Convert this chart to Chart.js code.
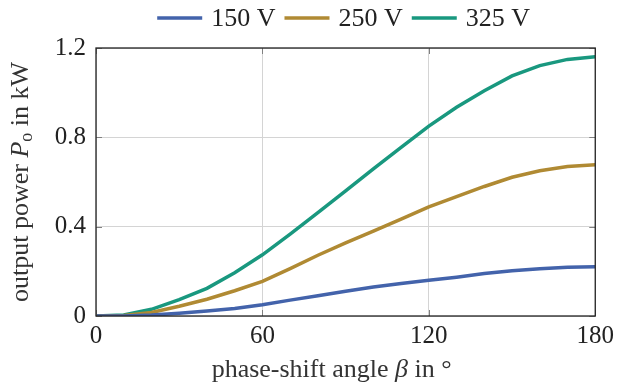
<!DOCTYPE html>
<html>
<head>
<meta charset="utf-8">
<script src="https://cdn.jsdelivr.net/npm/chart.js@4/dist/chart.umd.min.js"></script>
<style>
html, body { margin: 0; padding: 0; background: #fff; }
#wrap { width: 619px; height: 390px; position: relative; }
</style>
</head>
<body>
<div id="wrap"><canvas id="powerChart"></canvas></div>
<script>
// phase-shift angle in degrees
var angles = [0, 10, 20, 30, 40, 50, 60, 70, 80, 90, 100, 110, 120, 130, 140, 150, 160, 170, 180];

// output power in kW for each dc-link voltage
var p150 = [0, 0, 0.004, 0.012, 0.022, 0.034, 0.050, 0.071, 0.091, 0.111, 0.130, 0.146, 0.160, 0.174, 0.190, 0.203, 0.212, 0.218, 0.221];
var p250 = [0, 0.002, 0.016, 0.044, 0.075, 0.113, 0.155, 0.212, 0.272, 0.327, 0.380, 0.434, 0.489, 0.535, 0.580, 0.621, 0.650, 0.669, 0.677];
var p325 = [0, 0.005, 0.030, 0.073, 0.124, 0.194, 0.274, 0.367, 0.463, 0.560, 0.659, 0.755, 0.850, 0.935, 1.009, 1.075, 1.121, 1.149, 1.161];

var seriesNames = ['150 V', '250 V', '325 V'];
var seriesColors = ['#4363ab', '#b08a33', '#19987f'];

var xTicks = [0, 60, 120, 180];
var yTicks = [0, 0.4, 0.8, 1.2];
var yTickLabels = ['0', '0.4', '0.8', '1.2'];

var FONT = "'Liberation Serif', 'Times New Roman', serif";

function toPoints(ys) {
    var pts = [];
    for (var i = 0; i < angles.length; i++) {
        pts.push({x: angles[i], y: ys[i]});
    }
    return pts;
}

function makeSet(i, ys) {
    return {
        label: seriesNames[i],
        data: toPoints(ys),
        borderColor: seriesColors[i],
        backgroundColor: seriesColors[i],
        borderWidth: 3.5,
        pointRadius: 0,
        tension: 0,
        fill: false
    };
}

// writes a run of differently styled pieces of text, centred on cx
function drawRuns(ctx, runs, cx, y) {
    var total = 0;
    for (var r of runs) {
        ctx.font = r.font;
        total += ctx.measureText(r.text).width;
    }
    var x = cx - total / 2;
    ctx.textAlign = 'left';
    ctx.textBaseline = 'alphabetic';
    for (var r of runs) {
        ctx.font = r.font;
        ctx.fillText(r.text, x, y + (r.dy || 0));
        x += ctx.measureText(r.text).width;
    }
}

// legend row above the plot: line sample + label for each dataset
function drawLegend(chart) {
    var ctx = chart.ctx;
    var a = chart.chartArea;
    var sets = chart.data.datasets;
    var lineLen = 45, gap = 9;
    ctx.font = '26px ' + FONT;
    var total = 0;
    for (var ds of sets) {
        total += lineLen + gap + ctx.measureText(ds.label).width;
    }
    total += gap * (sets.length - 1);
    var x = (a.left + a.right) / 2 - 2 - total / 2;
    ctx.textAlign = 'left';
    ctx.textBaseline = 'alphabetic';
    for (var ds of sets) {
        ctx.strokeStyle = ds.borderColor;
        ctx.lineWidth = 3.5;
        ctx.beginPath();
        ctx.moveTo(x, 18);
        ctx.lineTo(x + lineLen, 18);
        ctx.stroke();
        x += lineLen + gap;
        ctx.fillStyle = '#222';
        ctx.fillText(ds.label, x, 26);
        x += ctx.measureText(ds.label).width + gap;
    }
}

var frameAndTitles = {
    id: 'frameAndTitles',
    afterDatasetsDraw: function (chart) {
        var ctx = chart.ctx;
        var a = chart.chartArea;
        var xs = chart.scales.x, ys = chart.scales.y;
        ctx.save();

        // small inward ticks on all four sides
        ctx.strokeStyle = '#808080';
        ctx.lineWidth = 1;
        ctx.beginPath();
        for (var v of xTicks) {
            var px = Math.round(xs.getPixelForValue(v)) + 0.5;
            ctx.moveTo(px, a.bottom); ctx.lineTo(px, a.bottom - 6);
            ctx.moveTo(px, a.top); ctx.lineTo(px, a.top + 6);
        }
        for (var v of yTicks) {
            var py = Math.round(ys.getPixelForValue(v)) + 0.5;
            ctx.moveTo(a.left, py); ctx.lineTo(a.left + 6, py);
            ctx.moveTo(a.right, py); ctx.lineTo(a.right - 6, py);
        }
        ctx.stroke();

        // plot frame
        ctx.strokeStyle = '#222';
        ctx.lineWidth = 1.3;
        ctx.strokeRect(a.left, a.top, a.right - a.left, a.bottom - a.top);

        drawLegend(chart);

        ctx.fillStyle = '#333';
        var reg = '26px ' + FONT;
        var ita = 'italic 26px ' + FONT;

        drawRuns(ctx, [
            {text: 'phase-shift angle ', font: reg},
            {text: '\u03b2', font: ita},
            {text: ' in \u00b0', font: reg}
        ], (a.left + a.right) / 2 - 14, 377);

        ctx.translate(28, (a.top + a.bottom) / 2);
        ctx.rotate(-Math.PI / 2);
        drawRuns(ctx, [
            {text: 'output power ', font: reg},
            {text: 'P', font: ita},
            {text: 'o', font: '18px ' + FONT, dy: 4},
            {text: ' in kW', font: reg}
        ], 0, 0);
        ctx.restore();
    }
};

var ctx = document.getElementById('powerChart').getContext('2d');
var chart = new Chart(ctx, {
    type: 'line',
    data: {
        datasets: [makeSet(0, p150), makeSet(1, p250), makeSet(2, p325)]
    },
    options: {
        responsive: true,
        maintainAspectRatio: false,
        animation: false,
        layout: {padding: {left: 0, right: 21, top: 48, bottom: 0}},
        plugins: {
            tooltip: {enabled: false},
            legend: {display: false}
        },
        scales: {
            x: {
                type: 'linear',
                min: 0,
                max: 180,
                afterBuildTicks: function (s) { s.ticks = xTicks.map(function (v) { return {value: v}; }); },
                afterFit: function (s) { s.height = 74; },
                grid: {color: '#d4d4d4', lineWidth: 1, drawTicks: false},
                border: {display: false},
                ticks: {
                    font: {family: FONT, size: 25},
                    color: '#222',
                    padding: 5,
                    maxRotation: 0
                }
            },
            y: {
                type: 'linear',
                min: 0,
                max: 1.2,
                afterBuildTicks: function (s) { s.ticks = yTicks.map(function (v) { return {value: v}; }); },
                afterFit: function (s) { s.width = 96; },
                grid: {color: '#d4d4d4', lineWidth: 1, drawTicks: false},
                border: {display: false},
                ticks: {
                    font: {family: FONT, size: 25},
                    color: '#222',
                    padding: 10,
                    callback: function (v, i) { return yTickLabels[i]; }
                }
            }
        }
    },
    plugins: [frameAndTitles]
});
</script>
</body>
</html>
